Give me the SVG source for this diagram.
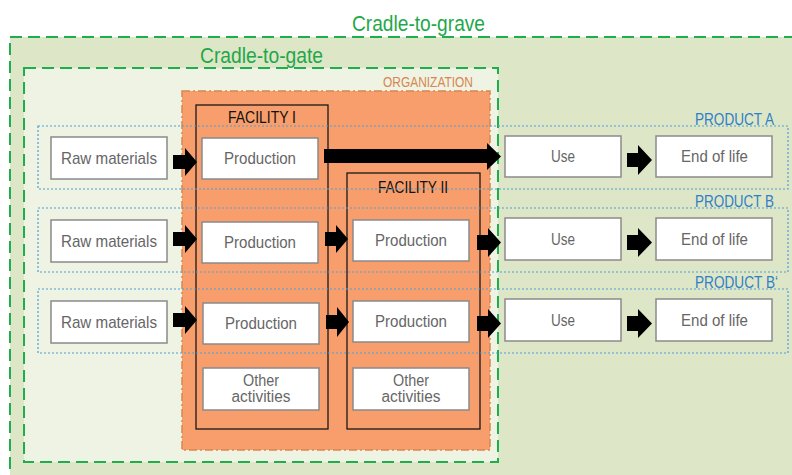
<svg xmlns="http://www.w3.org/2000/svg" width="792" height="475" viewBox="0 0 792 475">
<defs>
<style>
text{font-family:"Liberation Sans",Arial,sans-serif;}
.box{fill:#fff;stroke:#8a8a8a;stroke-width:1.5;}
.bt{font-size:17px;fill:#666;text-anchor:middle;}
.ot{font-size:16px;fill:#666;text-anchor:middle;}
.fac{fill:none;stroke:#1a1a1a;stroke-width:1.3;}
.ft{font-size:17px;fill:#111;text-anchor:middle;}
.prod{fill:none;stroke:#4a9fd5;stroke-width:1.2;stroke-dasharray:2 2;}
.pt{font-size:17px;fill:#2f7fc4;text-anchor:end;}
.cr{font-size:22px;fill:#1fa84a;text-anchor:middle;}
.arr{fill:#000;}
</style>
</defs>
<rect width="792" height="475" fill="#ffffff"/>
<g id="cradle-to-grave">
<rect x="10" y="37" width="800" height="460" fill="#dee6c8" stroke="#1fae4c" stroke-width="2" stroke-dasharray="12 6"/>
<text class="cr" x="418.5" y="31" textLength="133" lengthAdjust="spacingAndGlyphs">Cradle-to-grave</text>
</g>
<g id="cradle-to-gate">
<rect x="24" y="68" width="474" height="394" fill="#eff3e3" stroke="#1fae4c" stroke-width="2" stroke-dasharray="12 6"/>
<text class="cr" x="261.5" y="63" textLength="123" lengthAdjust="spacingAndGlyphs">Cradle-to-gate</text>
</g>
<g id="organization">
<rect x="182" y="91" width="308" height="359" fill="#f79e6c" stroke="#d8864f" stroke-width="1.5" stroke-dasharray="8 3 2 3"/>
<text x="428" y="87" font-size="14" fill="#d8864f" text-anchor="middle" textLength="90" lengthAdjust="spacingAndGlyphs">ORGANIZATION</text>
</g>
<g id="facility-1">
<rect class="fac" x="196" y="105" width="132" height="324"/>
<text class="ft" x="262" y="123" textLength="68" lengthAdjust="spacingAndGlyphs">FACILITY I</text>
</g>
<g id="facility-2">
<rect class="fac" x="347" y="173" width="133" height="256"/>
<text class="ft" x="413" y="193" textLength="70" lengthAdjust="spacingAndGlyphs">FACILITY II</text>
</g>
<g id="product-a">
<rect class="prod" x="38" y="126" width="750" height="63"/>
<text class="pt" x="774" y="124.5" textLength="79" lengthAdjust="spacingAndGlyphs">PRODUCT A</text>
</g>
<g id="product-b">
<rect class="prod" x="38" y="208" width="750" height="64"/>
<text class="pt" x="774" y="206.5" textLength="79" lengthAdjust="spacingAndGlyphs">PRODUCT B</text>
</g>
<g id="product-b-prime">
<rect class="prod" x="38" y="289" width="750" height="64"/>
<text class="pt" x="778" y="287.5" textLength="83" lengthAdjust="spacingAndGlyphs">PRODUCT B‘</text>
</g>
<g id="raw-a"><rect class="box" x="51" y="137" width="116" height="42"/><text class="bt" x="109" y="164" textLength="96" lengthAdjust="spacingAndGlyphs">Raw materials</text></g>
<g id="raw-b"><rect class="box" x="51" y="220" width="116" height="42"/><text class="bt" x="109" y="247" textLength="96" lengthAdjust="spacingAndGlyphs">Raw materials</text></g>
<g id="raw-bp"><rect class="box" x="51" y="301" width="116" height="42"/><text class="bt" x="109" y="328" textLength="96" lengthAdjust="spacingAndGlyphs">Raw materials</text></g>
<g id="prod1-a"><rect class="box" x="202" y="138" width="116" height="41"/><text class="bt" x="260" y="164" textLength="72" lengthAdjust="spacingAndGlyphs">Production</text></g>
<g id="prod1-b"><rect class="box" x="202" y="222" width="116" height="41"/><text class="bt" x="260" y="248" textLength="72" lengthAdjust="spacingAndGlyphs">Production</text></g>
<g id="prod1-bp"><rect class="box" x="203" y="303" width="116" height="41"/><text class="bt" x="261" y="329" textLength="72" lengthAdjust="spacingAndGlyphs">Production</text></g>
<g id="other1"><rect class="box" x="203" y="368" width="116" height="42"/><text class="ot" x="261" y="386" textLength="36" lengthAdjust="spacingAndGlyphs">Other</text><text class="ot" x="261" y="402" textLength="59" lengthAdjust="spacingAndGlyphs">activities</text></g>
<g id="prod2-b"><rect class="box" x="353" y="220" width="116" height="41"/><text class="bt" x="411" y="246" textLength="72" lengthAdjust="spacingAndGlyphs">Production</text></g>
<g id="prod2-bp"><rect class="box" x="353" y="301" width="116" height="41"/><text class="bt" x="411" y="327" textLength="72" lengthAdjust="spacingAndGlyphs">Production</text></g>
<g id="other2"><rect class="box" x="353" y="368" width="116" height="42"/><text class="ot" x="411" y="386" textLength="36" lengthAdjust="spacingAndGlyphs">Other</text><text class="ot" x="411" y="402" textLength="59" lengthAdjust="spacingAndGlyphs">activities</text></g>
<g id="use-a"><rect class="box" x="505" y="136" width="116" height="41"/><text class="bt" x="563" y="162" textLength="24" lengthAdjust="spacingAndGlyphs">Use</text></g>
<g id="use-b"><rect class="box" x="505" y="218" width="116" height="42"/><text class="bt" x="563" y="245" textLength="24" lengthAdjust="spacingAndGlyphs">Use</text></g>
<g id="use-bp"><rect class="box" x="505" y="299" width="116" height="42"/><text class="bt" x="563" y="326" textLength="24" lengthAdjust="spacingAndGlyphs">Use</text></g>
<g id="eol-a"><rect class="box" x="656" y="136" width="116" height="41"/><text class="bt" x="714.5" y="162" textLength="67" lengthAdjust="spacingAndGlyphs">End of life</text></g>
<g id="eol-b"><rect class="box" x="656" y="218" width="116" height="42"/><text class="bt" x="714.5" y="245" textLength="67" lengthAdjust="spacingAndGlyphs">End of life</text></g>
<g id="eol-bp"><rect class="box" x="656" y="299" width="116" height="42"/><text class="bt" x="714.5" y="326" textLength="67" lengthAdjust="spacingAndGlyphs">End of life</text></g>
<g id="connectors" class="arr">
<path d="M173,155 H185 V148 L197,162 L185,176 V169 H173 Z"/>
<path d="M324,149 H487 V143 L501,156.5 L487,170 V163 H324 Z"/>
<path d="M627,153 H638 V145 L652,160 L638,175 V167 H627 Z"/>
<path d="M173,232 H185 V225 L197,239 L185,253 V246 H173 Z"/>
<path d="M325,232 H336 V225 L348,239 L336,253 V246 H325 Z"/>
<path d="M477,235 H488 V228 L501,242.5 L488,257 V250 H477 Z"/>
<path d="M627,235 H638 V228 L652,242.5 L638,257 V250 H627 Z"/>
<path d="M173,313 H185 V306 L197,320 L185,334 V327 H173 Z"/>
<path d="M326,315 H337 V307 L349,322 L337,337 V329 H326 Z"/>
<path d="M477,316 H488 V309 L501,323.5 L488,338 V331 H477 Z"/>
<path d="M627,316 H638 V309 L652,323.5 L638,338 V331 H627 Z"/>
</g>
</svg>
